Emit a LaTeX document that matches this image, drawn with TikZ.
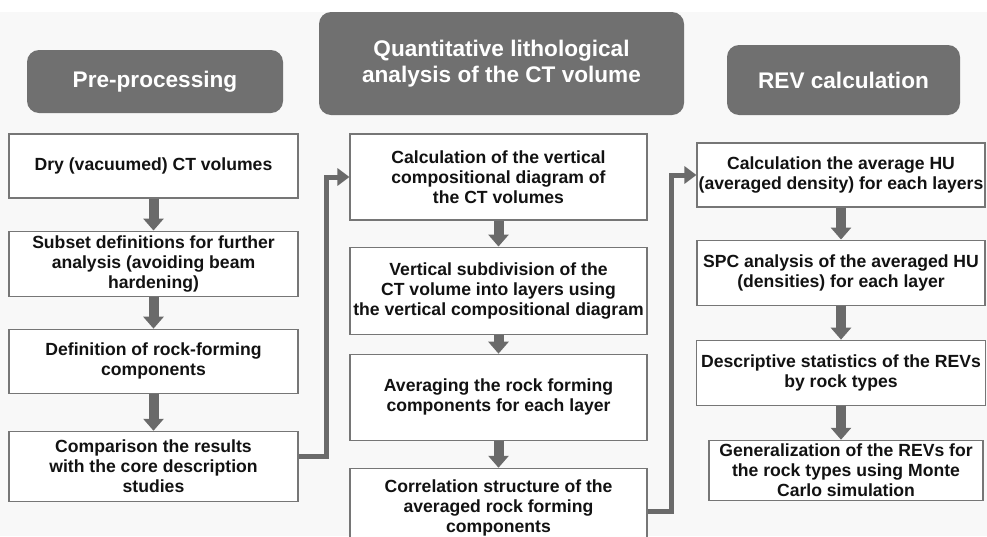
\documentclass[tikz,border=0pt]{standalone}
\usepackage{fontspec}
\setmainfont{Liberation Sans}
\usetikzlibrary{arrows.meta,positioning}
\definecolor{wfHead}{RGB}{112,112,112}
\definecolor{wfArrow}{RGB}{106,106,106}
\definecolor{wfEdge}{RGB}{118,118,118}
\definecolor{wfText}{RGB}{18,18,18}
\definecolor{wfBack}{RGB}{248,248,248}
\tikzset{
    hdr/.style={
        rectangle,
        rounded corners=12pt,
        fill=wfHead,
        text=white,
        font=\fontsize{22.6}{26}\selectfont\bfseries,
        align=center,
        inner sep=0pt
    },
    stepbox/.style={
        rectangle,
        draw=wfEdge,
        line width=1.1pt,
        fill=white,
        text=wfText,
        font=\fontsize{17.6}{20}\selectfont\bfseries,
        align=center,
        inner sep=0pt,
        minimum width=#1
    },
    stepbox/.default=289pt
}

\begin{document}
\begin{tikzpicture}[
    x=1pt, y=-1pt,
    blockarr/.style={-{Triangle[length=12pt,width=20pt]}, line width=10pt, draw=wfArrow},
    link/.style={-{Triangle[length=12pt,width=17pt]}, line width=5pt, draw=wfArrow}
]
\useasboundingbox (0,0) rectangle (987,536);
\clip (0,0) rectangle (987,536);
\fill[white] (0,0) rectangle (987,536);
\fill[wfBack] (0,12) rectangle (987,536);

% column headers
\node[hdr, minimum width=256pt, minimum height=63pt] (pre) at (155,81.5) {Pre-processing};
\node[hdr, minimum width=365pt, minimum height=103pt] (qla) at (501.5,63.5) {Quantitative lithological\\analysis of the CT volume};
\node[hdr, minimum width=233pt, minimum height=70pt] (rev) at (843.5,80) {REV calculation};

% pre-processing
\node[stepbox, minimum height=64pt] (dry) at (153.5,166) {Dry (vacuumed) CT volumes};
\node[stepbox, minimum height=65pt, below=32pt of dry] (sub) {Subset definitions for further\\analysis (avoiding beam\\hardening)};
\node[stepbox, minimum height=64pt, below=32pt of sub] (def) {Definition of rock-forming\\components};
\node[stepbox, minimum height=70pt, below=37pt of def] (cmp) {Comparison the results\\with the core description\\studies};

% lithological analysis
\node[stepbox=297pt, minimum height=86pt] (cvd) at (498.5,177) {Calculation of the vertical\\compositional diagram of\\the CT volumes};
\node[stepbox=297pt, minimum height=87pt, below=26pt of cvd] (vsd) {Vertical subdivision of the\\CT volume into layers using\\the vertical compositional diagram};
\node[stepbox=297pt, minimum height=86pt, below=19pt of vsd] (avg) {Averaging the rock forming\\components for each layer};
\node[stepbox=297pt, minimum height=80pt, below=27pt of avg] (cor) {Correlation structure of the\\averaged rock forming\\components};

% REV
\node[stepbox=288pt, minimum height=64pt] (hu) at (841,175) {Calculation the average HU\\(averaged density) for each layers};
\node[stepbox=288pt, minimum height=65pt, below=32pt of hu] (spc) {SPC analysis of the averaged HU\\(densities) for each layer};
\node[stepbox=289pt, minimum height=65pt, below=34pt of spc] (stat) {Descriptive statistics of the REVs\\by rock types};
\node[stepbox=274pt, minimum height=60pt, below=34pt of stat, xshift=5pt] (gen) {Generalization of the REVs for\\the rock types using Monte\\Carlo simulation};

\draw[blockarr] (dry) -- (sub);
\draw[blockarr] (sub) -- (def);
\draw[blockarr] (def) -- (cmp);
\draw[blockarr] (cvd) -- (vsd);
\draw[blockarr] (vsd) -- (avg);
\draw[blockarr] (avg) -- (cor);
\draw[blockarr] (hu) -- (spc);
\draw[blockarr] (spc) -- (stat);
\draw[blockarr] (stat.south) -- (stat.south |- gen.north);

\draw[link] ([yshift=10pt]cmp.east) -- ++(28pt,0) |- (cvd.west);
\draw[link] ([yshift=-3pt]cor.east) -- ++(24pt,0) |- (hu.west);
\end{tikzpicture}
\end{document}
